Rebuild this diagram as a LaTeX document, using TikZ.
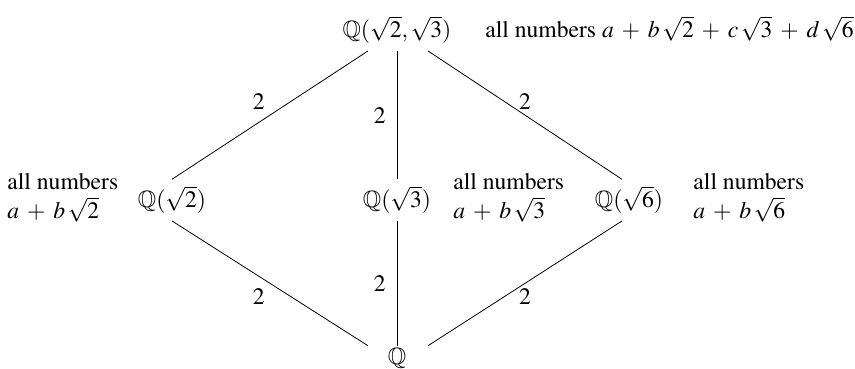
\documentclass[tikz,border=0pt]{standalone}
\usepackage[T1]{fontenc}
\usepackage{mathptmx}
\usepackage{amssymb}
\usetikzlibrary{positioning}
\medmuskip=6mu plus 2mu minus 4mu

\begin{document}
\begin{tikzpicture}[
        x=112.5pt, y=85pt,
        fld/.style={font=\fontsize{11.8}{14.5}\selectfont, anchor=base},
        note/.style={font=\fontsize{11.8}{14.5}\selectfont, inner sep=0pt, align=left},
        deg/.style={font=\fontsize{11.8}{14.5}\selectfont, inner sep=2.5pt},
    ]
    % Fixed frame (reference margins)
    \useasboundingbox (-1.7644,-0.947) rectangle (2.0356,1.2235);

    % Fields of the tower
    \node[fld] (top) at (0,1) {$\mathbb{Q}(\sqrt{2},\sqrt{3})$};
    \node[fld] (l2) at (-1,0) {$\mathbb{Q}(\sqrt{2})$};
    \node[fld] (l3) at (0,0) {$\mathbb{Q}(\sqrt{3})$};
    \node[fld] (l6) at (1.031,0) {$\mathbb{Q}(\sqrt{6})$};
    \node[fld, inner sep=1pt] (q) at (0,-0.92) {$\mathbb{Q}$};

    % Descriptions
    \node[note, anchor=base west] (ntop) at (0.391,1) {all numbers $a+b\,\sqrt{2}+c\,\sqrt{3}+d\,\sqrt{6}$};
    \node[note, anchor=west] (n2) at (-1.733,0.06) {all numbers\\$a+b\,\sqrt{2}$};
    \node[note, anchor=west] (n3) at (0.249,0.06) {all numbers\\$a+b\,\sqrt{3}$};
    \node[note, anchor=west] (n6) at (1.316,0.06) {all numbers\\$a+b\,\sqrt{6}$};

    % Upper edges
    \draw ([xshift=-14.5pt]top.south) -- node[deg, above left] {2} (l2.north);
    \draw (top.south) -- node[deg, left=3pt] {2} (l3.north);
    \draw ([xshift=15.5pt]top.south) -- node[deg, above] {2} ([xshift=-3.5pt]l6.north);

    % Lower edges
    \draw (l2.south) -- node[deg, below left] {2} ([xshift=-14.5pt]q.north);
    \draw (l3.south) -- node[deg, left=3pt] {2} (q.north);
    \draw ([xshift=-3.5pt]l6.south) -- node[deg, below] {2} ([xshift=15.5pt]q.north);
\end{tikzpicture}
\end{document}
